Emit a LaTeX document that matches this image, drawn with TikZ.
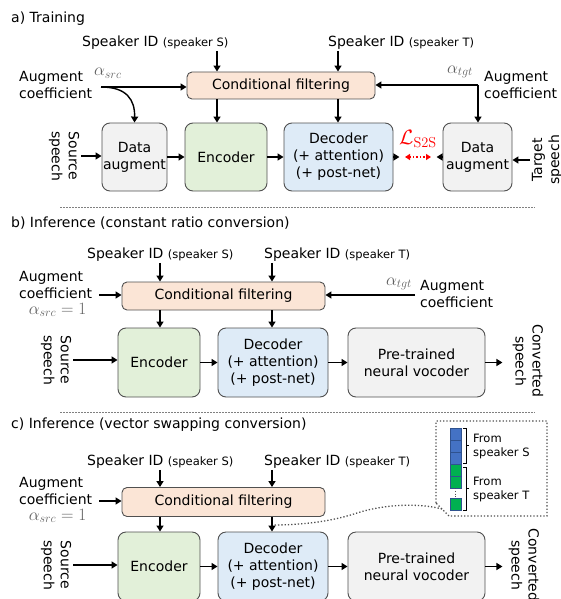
\documentclass[tikz,border=0pt]{standalone}
\usepackage[no-math]{fontspec}
\setmainfont{DejaVu Sans}
\usetikzlibrary{arrows.meta}
\definecolor{colCF}{HTML}{FBE5D6}
\definecolor{colEnc}{HTML}{E2F0D9}
\definecolor{colDec}{HTML}{DEEBF7}
\definecolor{colGray}{HTML}{F2F2F2}
\definecolor{colBd}{HTML}{505050}
\definecolor{colAl}{HTML}{606060}
\definecolor{colBlue}{HTML}{4472C4}
\definecolor{colGreen}{HTML}{00B050}
\definecolor{colCell}{HTML}{2F528F}
\newcommand{\skf}{\fontsize{11.5}{14}\selectfont}
\tikzset{
  lbl/.style={font=\fontsize{14}{17}\selectfont, inner sep=1pt},
  bx/.style={draw=colBd, line width=0.9pt, rounded corners=8pt, align=center, inner sep=0pt,
             font=\fontsize{14}{17}\selectfont, minimum height=68pt},
  cfbox/.style={bx, fill=colCF, rounded corners=5pt, minimum height=28pt},
  gbox/.style={bx, fill=colGray},
  ebox/.style={bx, fill=colEnc, minimum width=82pt},
  dbox/.style={bx, fill=colDec, minimum width=109pt},
  vbox/.style={bx, fill=colGray, minimum width=137pt},
  arr/.style={line width=1.4pt, -{Triangle[length=6pt,width=7pt]}},
  alph/.style={text=colAl, font=\fontsize{17}{20}\selectfont, inner sep=0pt},
  sepline/.style={gray, line width=0.6pt, dash pattern=on 2pt off 1pt},
  rot/.style={lbl, align=center, inner sep=2pt},
  cell/.style={fill=#1, draw=colCell, line width=0.6pt},
  dotl/.style={dotted, line width=1.3pt, draw=colBd},
}
\begin{document}
\begin{tikzpicture}[x=1pt,y=-1pt]
\useasboundingbox (0,0) rectangle (560,599);

% ================= a) Training =================
\node[lbl, anchor=west] (ta) at (10,19) {a) Training};
\node[lbl, anchor=west] (sSa) at (81,43) {Speaker ID {\skf(speaker S)}};
\node[lbl, anchor=west] (sTa) at (327,43) {Speaker ID {\skf(speaker T)}};
\node[cfbox, minimum width=188pt, minimum height=27pt] (cfa) at (281,85.5) {Conditional filtering};
\node[gbox, minimum width=65pt] (daa) at (134.5,157) {Data\\augment};
\node[ebox] (enca) at (226,157) {Encoder};
\node[dbox] (deca) at (338.5,157) {Decoder\\(+ attention)\\(+ post-net)};
\node[gbox, minimum width=69pt] (dab) at (477.5,157) {Data\\augment};
\node[rot, rotate=-90] (ssa) at (64,156) {Source\\speech};
\node[rot, rotate=90] (tsa) at (547,160) {Target\\speech};
\node[lbl, anchor=west, align=left] (aca) at (18,85) {Augment\\coefficient};
\node[alph, anchor=west] (asa) at (94,73) {$\alpha_{src}$};
\node[alph, anchor=west] (ata) at (447,72) {$\alpha_{tgt}$};
\node[lbl, anchor=west, align=left] (acr) at (483,85) {Augment\\coefficient};
\node[text=red, font=\fontsize{20}{22}\selectfont, inner sep=0pt] (lss) at (418,139) {$\mathcal{L}_{\mathrm{S2S}}$};

\coordinate (xa1) at (217,0);
\coordinate (xa2) at (338,0);
\draw[arr] (xa1 |- sSa.south) -- (xa1 |- cfa.north);
\draw[arr] (xa2 |- sTa.south) -- (xa2 |- cfa.north);
\draw[arr] (xa1 |- cfa.south) -- (xa1 |- enca.north);
\draw[arr] (xa2 |- cfa.south) -- (xa2 |- deca.north);
\coordinate (pa) at (101,87);
\draw[arr] (pa) -- (pa -| cfa.west);
\draw[arr] (pa) .. controls (127,87) and (135,100) .. (daa.north);
\coordinate (qa) at (478,85);
\draw[arr] (qa) -- (qa -| cfa.east);
\draw[arr] (qa) -- (qa |- dab.north);
\draw[arr] (ssa.north) -- (ssa.north -| daa.west);
\draw[arr] (daa) -- (enca);
\draw[arr] (enca) -- (deca);
\draw[arr] (tsa.north) -- (tsa.north -| dab.east);
\draw[arr] (deca.east) -- ++(6,0);
\draw[arr] (dab.west) -- ++(-6,0);
\draw[red, line width=1.4pt, dotted, {Triangle[length=5pt,width=6pt]}-{Triangle[length=5pt,width=6pt]}] (405,157) -- (431,157);

\draw[sepline] (60,207) -- (535,207);

% ================= b) constant ratio =================
\node[lbl, anchor=west] (tb) at (10,223) {b) Inference (constant ratio conversion)};
\node[lbl, anchor=west] (sSb) at (86,255) {Speaker ID {\skf(speaker S)}};
\node[lbl, anchor=west] (sTb) at (263,255) {Speaker ID {\skf(speaker T)}};
\node[cfbox, minimum width=203pt] (cfb) at (223.5,296) {Conditional filtering};
\node[ebox, minimum height=69pt] (encb) at (159,362.5) {Encoder};
\node[dbox, minimum width=110pt, minimum height=69pt] (decb) at (273,362.5) {Decoder\\(+ attention)\\(+ post-net)};
\node[vbox, minimum height=69pt] (vocb) at (416.5,362.5) {Pre-trained\\neural vocoder};
\node[rot, rotate=-90] (ssb) at (56,360) {Source\\speech};
\node[rot, rotate=-90] (csb) at (528,361) {Converted\\speech};
\node[lbl, anchor=west, align=left] (acb) at (18,285) {Augment\\coefficient};
\node[alph] (asb) at (57.5,310) {$\alpha_{src}=1$};
\node[alph, anchor=west] (atb) at (386,284) {$\alpha_{tgt}$};
\node[lbl, anchor=west, align=left] (acrb) at (419,294) {Augment\\coefficient};

\coordinate (xb1) at (160,0);
\coordinate (xb2) at (272,0);
\draw[arr] (xb1 |- sSb.south) -- (xb1 |- cfb.north);
\draw[arr] (xb2 |- sTb.south) -- (xb2 |- cfb.north);
\draw[arr] (xb1 |- cfb.south) -- (xb1 |- encb.north);
\draw[arr] (xb2 |- cfb.south) -- (xb2 |- decb.north);
\coordinate (ib) at (99,295);
\draw[arr] (ib) -- (ib -| cfb.west);
\coordinate (jb) at (415,295);
\draw[arr] (jb) -- (jb -| cfb.east);
\draw[arr] (ssb.north) -- (ssb.north -| encb.west);
\draw[arr] (encb) -- (decb);
\draw[arr] (decb) -- (vocb);
\draw[arr] (vocb.east) -- ++(17,0);

\draw[sepline] (60,412) -- (535,412);

% ================= c) vector swapping =================
\node[lbl, anchor=west] (tc) at (10,425) {c) Inference (vector swapping conversion)};
\node[lbl, anchor=west] (sSc) at (86,462) {Speaker ID {\skf(speaker S)}};
\node[lbl, anchor=west] (sTc) at (263,462) {Speaker ID {\skf(speaker T)}};
\node[cfbox, minimum width=203pt, minimum height=29pt] (cfc) at (223.5,502) {Conditional filtering};
\node[ebox, minimum height=69pt] (encc) at (159,566.5) {Encoder};
\node[dbox, minimum width=110pt, minimum height=69pt] (decc) at (273,566.5) {Decoder\\(+ attention)\\(+ post-net)};
\node[vbox, minimum height=69pt] (vocc) at (416.5,566.5) {Pre-trained\\neural vocoder};
\node[rot, rotate=-90] (ssc) at (56,565) {Source\\speech};
\node[rot, rotate=-90] (csc) at (524,565) {Converted\\speech};
\node[lbl, anchor=west, align=left] (acc) at (18,491) {Augment\\coefficient};
\node[alph] (asc) at (57.5,516) {$\alpha_{src}=1$};

\coordinate (xc1) at (160,0);
\coordinate (xc2) at (272,0);
\draw[arr] (xc1 |- sSc.south) -- (xc1 |- cfc.north);
\draw[arr] (xc2 |- sTc.south) -- (xc2 |- cfc.north);
\draw[arr] (xc1 |- cfc.south) -- (xc1 |- encc.north);
\draw[arr] (xc2 |- cfc.south) -- (xc2 |- decc.north);
\coordinate (ic) at (99,501);
\draw[arr] (ic) -- (ic -| cfc.west);
\draw[arr] (ssc.north) -- (ssc.north -| encc.west);
\draw[arr] (encc) -- (decc);
\draw[arr] (decc) -- (vocc);
\draw[arr] (vocc.east) -- ++(17,0);

% inset
\draw[dotl] (436,503) -- (436,421) -- (547,421) -- (547,516) -- (449,516) -- cycle;
\coordinate (tailend) at (442,509);
\draw[dotl] (tailend) .. controls (420,503) and (385,504) .. (357,513)
      .. controls (330,522) and (300,525) .. (273,525);
\draw[cell=colBlue] (450,428) rectangle (461,440);
\draw[cell=colBlue] (450,440) rectangle (461,452);
\draw[cell=colBlue] (450,452) rectangle (461,464);
\draw[cell=colGreen] (450,464) rectangle (461,476);
\draw[cell=colGreen] (450,476) rectangle (461,488);
\draw[cell=colGreen] (450,498) rectangle (461,510);
\draw[colBd, dotted, line width=0.8pt] (455.5,488) -- (455.5,498);
\draw[line width=0.8pt] (463,428) -- (466,428) -- (466,463) -- (463,463) (466,445.5) -- (469,445.5);
\draw[line width=0.8pt] (463,467) -- (466,467) -- (466,510) -- (463,510) (466,488.5) -- (469,488.5);
\node[anchor=west, align=left, font=\skf, inner sep=0pt] (fs) at (473,446) {From\\speaker S};
\node[anchor=west, align=left, font=\skf, inner sep=0pt] (ft) at (473,489) {From\\speaker T};
\end{tikzpicture}
\end{document}
